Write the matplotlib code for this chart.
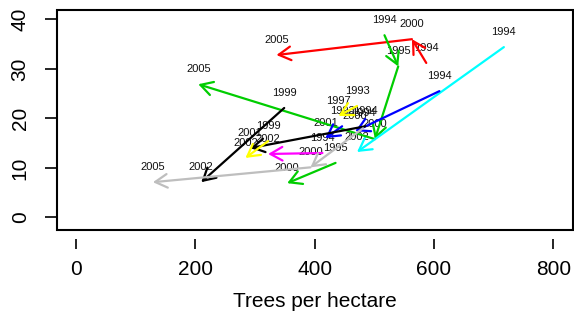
import matplotlib
matplotlib.use("Agg")
import matplotlib.pyplot as plt
from matplotlib.patches import FancyArrowPatch, Rectangle

plt.rcParams['font.family'] = ['Liberation Sans', 'DejaVu Sans']

# Stand trajectories: trees per hectare (x) against second variable (y), by survey year
red_x = [587, 563, 336]
red_y = [31.2, 36.0, 32.8]
red_years = ["1994", "2000", "2005"]

greenA_x = [517, 540, 501, 205]
greenA_y = [36.8, 30.5, 15.8, 26.9]
greenA_years = ["1994", "1995", "2000", "2005"]

cyan_x = [717, 471]
cyan_y = [34.4, 13.2]
cyan_years = ["1994", "2002"]

blueA_x = [609, 468]
blueA_y = [25.5, 17.4]
blueA_years = ["1994", "2000"]

blueB_x = [446, 418]
blueB_y = [18.4, 16.0]
blueB_years = ["1993", "2001"]

blackA_x = [349, 210]
blackA_y = [22.1, 7.1]
blackA_years = ["1999", "2002"]

blackB_x = [485, 292]
blackB_y = [18.4, 14.0]
blackB_years = ["1994", "2001"]

yellowA_x = [322, 284]
yellowA_y = [15.4, 12.0]
yellowA_years = ["1999", "2002"]

yellowB_x = [471, 440]
yellowB_y = [22.5, 20.5]
yellowB_years = ["1993", "1997"]

magenta_x = [413, 322]
magenta_y = [13.0, 12.8]
magenta_years = ["1994", "2002"]

grey_x = [481, 393, 129]
grey_y = [18.0, 10.1, 7.1]
grey_years = ["1994", "2000", "2005"]

greenB_x = [435, 354]
greenB_y = [11.0, 6.9]
greenB_years = ["1995", "2000"]

series = [
    (red_x, red_y, red_years, "#FF0000"),
    (greenA_x, greenA_y, greenA_years, "#00CD00"),
    (cyan_x, cyan_y, cyan_years, "#00FFFF"),
    (blueA_x, blueA_y, blueA_years, "#0000FF"),
    (blueB_x, blueB_y, blueB_years, "#0000FF"),
    (blackA_x, blackA_y, blackA_years, "#000000"),
    (blackB_x, blackB_y, blackB_years, "#000000"),
    (yellowA_x, yellowA_y, yellowA_years, "#FFFF00"),
    (yellowB_x, yellowB_y, yellowB_years, "#FFFF00"),
    (magenta_x, magenta_y, magenta_years, "#FF00FF"),
    (grey_x, grey_y, grey_years, "#BEBEBE"),
    (greenB_x, greenB_y, greenB_years, "#00CD00"),
]

x_ticks = [0, 200, 400, 600, 800]
y_ticks = [0, 10, 20, 30, 40]

W, H = 574, 326
fig = plt.figure(figsize=(W / 100, H / 100), dpi=100)
left, right, top, bottom = 56.8, 572.5, 10, 229.5
ax = fig.add_axes([left / W, 1 - bottom / H, (right - left) / W, (bottom - top) / H])
ax.set_xlim(-32, 832)
ax.set_ylim(-2.46, 41.9)

# year labels first, arrows drawn over them
for xs, ys, yrs, col in series:
    for x, y, yr in zip(xs, ys, yrs):
        ax.annotate(yr, (x, y), xytext=(0, 11), textcoords="offset points",
                    ha="center", va="center", fontsize=8, color="#111111")

for xs, ys, yrs, col in series:
    for i in range(len(xs) - 1):
        arr = FancyArrowPatch((xs[i], ys[i]), (xs[i + 1], ys[i + 1]),
                              arrowstyle="->,head_length=0.62,head_width=0.35",
                              mutation_scale=14, color=col, lw=1.6,
                              shrinkA=0, shrinkB=0, zorder=3)
        ax.add_patch(arr)

for s in ax.spines.values():
    s.set_visible(False)
ax.spines['bottom'].set_position(('outward', 7))
ax.add_patch(Rectangle((0, 0), 1, 1, transform=ax.transAxes, fill=False,
                       lw=1.5, edgecolor="black", clip_on=False, zorder=5))

ax.set_xticks(x_ticks)
ax.set_yticks(y_ticks)
ax.tick_params(axis='x', direction='out', length=7, width=1.2, pad=8, labelsize=15)
ax.tick_params(axis='y', direction='out', length=8.5, width=1.2, pad=11, labelsize=15)
for lab in ax.get_yticklabels():
    lab.set_rotation(90)
    lab.set_va('center')
ax.set_xlabel("Trees per hectare", fontsize=15, labelpad=9)

fig.savefig("out.png", dpi=100)
